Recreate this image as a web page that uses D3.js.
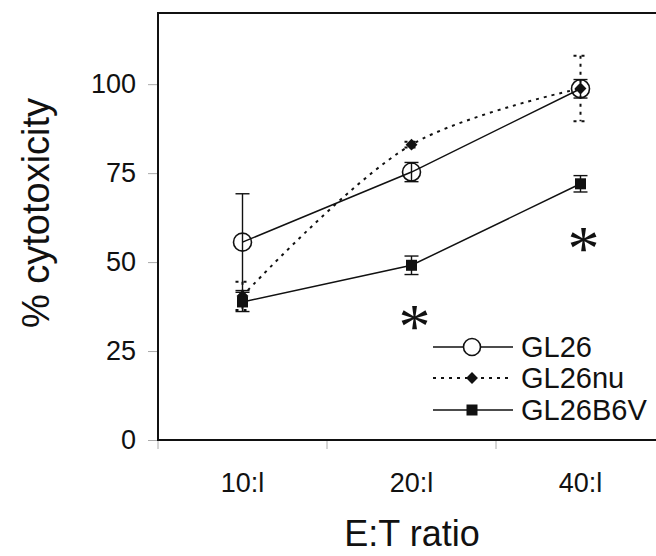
<!DOCTYPE html>
<html>
<head>
<meta charset="utf-8">
<script src="https://cdn.jsdelivr.net/npm/d3@7"></script>
<style>
  html, body { margin: 0; padding: 0; background: #fff; }
  svg { display: block; }
  text { font-family: "Liberation Sans", Arial, Helvetica, sans-serif; fill: #111; }
</style>
</head>
<body>
<svg id="chart" width="656" height="556"></svg>
<script>
// ---- data ----
const categories = ["10:l", "20:l", "40:l"];
const yTicks = [0, 25, 50, 75, 100];
const seriesNames = ["GL26", "GL26nu", "GL26B6V"];
const gl26 = [55.6, 75.3, 98.7];
const gl26Err = [13.6, 2.7, 2.6];
const gl26nu = [40.5, 83.0, 98.8];
const gl26nuErr = [4.0, 0.8, 9.2];
const gl26b6v = [38.8, 49.1, 72.0];
const gl26b6vErr = [2.7, 2.6, 2.3];
const sigCategories = ["20:l", "40:l"];
const sigValues = [34.6, 56.5];

// ---- layout ----
const svg = d3.select("#chart");
const plotLeft = 158, plotRight = 665, plotTop = 13, plotBottom = 440;

const x = d3.scaleBand().domain(categories).range([plotLeft, plotRight]).padding(0);
const cx = c => x(c) + x.bandwidth() / 2;
const y = d3.scaleLinear().domain([0, 120]).range([plotBottom, plotTop]);

// ticks (y)
const yAxis = d3.axisLeft(y).tickValues(yTicks).tickSize(10).tickPadding(12);
const gy = svg.append("g").attr("transform", `translate(${plotLeft},0)`).call(yAxis);
gy.select(".domain").remove();
gy.selectAll(".tick line").attr("stroke", "#aaa").attr("stroke-width", 1);
gy.selectAll(".tick text").style("font-size", "27px").attr("fill", "#111")
  .style("font-family", "'Liberation Sans', Arial, sans-serif");

// ticks (x) at band boundaries
const bounds = categories.map(c => x(c));
svg.append("g").selectAll("line").data(bounds).join("line")
  .attr("x1", d => d).attr("x2", d => d)
  .attr("y1", plotBottom).attr("y2", plotBottom + 9)
  .attr("stroke", "#aaa").attr("stroke-width", 1);

svg.append("g").selectAll("text").data(categories).join("text")
  .attr("x", d => cx(d)).attr("y", 492)
  .attr("text-anchor", "middle")
  .style("font-size", "27px")
  .text(d => d);

// frame
svg.append("path")
  .attr("d", `M${plotRight + 20},${plotTop} L${plotLeft},${plotTop} L${plotLeft},${plotBottom} L${plotRight + 20},${plotBottom}`)
  .attr("fill", "none").attr("stroke", "#111").attr("stroke-width", 2);

// axis titles
svg.append("text")
  .attr("transform", `translate(49,213) rotate(-90)`)
  .attr("text-anchor", "middle")
  .style("font-size", "38px")
  .text("% cytotoxicity");

svg.append("text")
  .attr("x", 412).attr("y", 546)
  .attr("text-anchor", "middle")
  .style("font-size", "36px")
  .text("E:T ratio");

// ---- series ----
const series = [
  { name: seriesNames[1], vals: gl26nu, err: gl26nuErr, dash: "3,5", marker: "diamond", curve: d3.curveCatmullRom.alpha(0.5) },
  { name: seriesNames[0], vals: gl26, err: gl26Err, dash: null, marker: "circle", curve: d3.curveLinear },
  { name: seriesNames[2], vals: gl26b6v, err: gl26b6vErr, dash: null, marker: "square", curve: d3.curveLinear }
];

function drawMarker(g, type, px, py) {
  if (type === "circle") {
    g.append("circle").attr("cx", px).attr("cy", py).attr("r", 9)
      .attr("fill", "none").attr("stroke", "#111").attr("stroke-width", 1.6);
  } else if (type === "diamond") {
    g.append("path").attr("d", d3.symbol(d3.symbolDiamond2, 90)())
      .attr("transform", `translate(${px},${py})`).attr("fill", "#111");
  } else {
    g.append("rect").attr("x", px - 5.5).attr("y", py - 5.5).attr("width", 11).attr("height", 11)
      .attr("fill", "#111");
  }
}

series.forEach(s => {
  const g = svg.append("g");
  const pts = categories.map((c, i) => [cx(c), y(s.vals[i])]);
  categories.forEach((c, i) => {
    const px = cx(c);
    const y1 = y(s.vals[i] + s.err[i]), y2 = y(s.vals[i] - s.err[i]);
    const eb = g.append("g").attr("stroke", "#111").attr("stroke-width", s.dash ? 2 : 1.4)
      .attr("stroke-dasharray", s.dash);
    eb.append("line").attr("x1", px).attr("x2", px).attr("y1", y1).attr("y2", y2);
    [y1, y2].forEach(yy => eb.append("line").attr("x1", px - 7).attr("x2", px + 7).attr("y1", yy).attr("y2", yy));
  });
  g.append("path")
    .attr("d", d3.line().curve(s.curve)(pts))
    .attr("fill", "none").attr("stroke", "#111")
    .attr("stroke-width", s.dash ? 2 : 1.5)
    .attr("stroke-dasharray", s.dash);
  pts.forEach(p => drawMarker(g, s.marker, p[0], p[1]));
});

// significance asterisks
svg.append("g").selectAll("text").data(sigCategories).join("text")
  .attr("x", d => cx(d) + 3)
  .attr("y", (d, i) => y(sigValues[i]) + 31)
  .attr("text-anchor", "middle")
  .style("font-family", "'Liberation Serif', 'Times New Roman', serif")
  .style("font-size", "64px")
  .text("*");

// ---- legend ----
const legend = svg.append("g");
const legendRows = [
  { name: seriesNames[0], marker: "circle", dash: null, y: 347 },
  { name: seriesNames[1], marker: "diamond", dash: "3,5", y: 378 },
  { name: seriesNames[2], marker: "square", dash: null, y: 410 }
];
legendRows.forEach(r => {
  legend.append("line").attr("x1", 433).attr("x2", 513).attr("y1", r.y).attr("y2", r.y)
    .attr("stroke", "#111").attr("stroke-width", r.dash ? 2 : 1.5).attr("stroke-dasharray", r.dash);
  if (r.marker === "circle") {
    legend.append("circle").attr("cx", 472).attr("cy", r.y).attr("r", 8.5)
      .attr("fill", "#fff").attr("stroke", "#111").attr("stroke-width", 1.6);
  } else {
    drawMarker(legend, r.marker, 472, r.y);
  }
  legend.append("text").attr("x", 521).attr("y", r.y).attr("dy", "0.36em")
    .style("font-size", "29px").text(r.name);
});
</script>
</body>
</html>
